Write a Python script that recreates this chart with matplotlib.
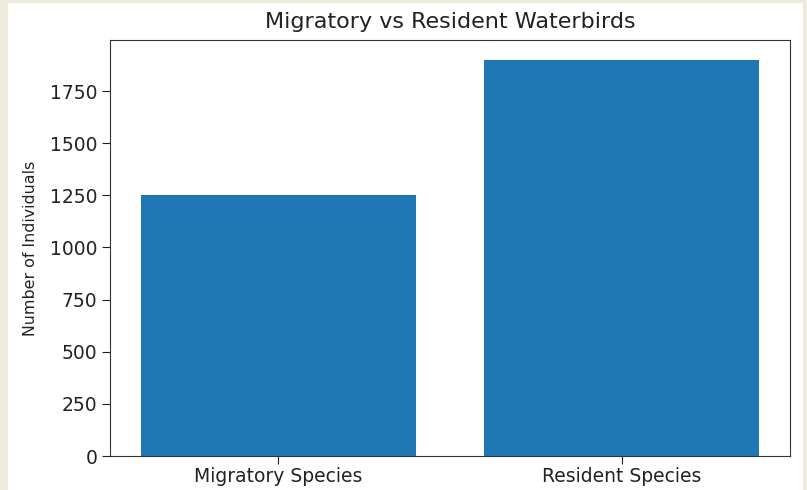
import matplotlib
matplotlib.use("Agg")
import matplotlib.pyplot as plt
from matplotlib.patches import Rectangle

plt.rcParams['font.family'] = ['DejaVu Sans']

categories = ["Migratory Species", "Resident Species"]
counts = [1250, 1900]
title = "Migratory vs Resident Waterbirds"
ylabel = "Number of Individuals"

W, H = 807, 490
fig = plt.figure(figsize=(W / 100, H / 100), dpi=100)
fig.patch.set_facecolor("#ecebdc")
fig.patches.append(Rectangle((8 / W, 0), (803 - 8) / W, (H - 3) / H,
                             transform=fig.transFigure, facecolor="white",
                             edgecolor="none", zorder=-10))

ax = fig.add_axes([110 / W, 1 - 456 / H, (790 - 110) / W, (456 - 40) / H])
ax.set_zorder(1)
ax.bar(categories, counts, color="#1f77b4")
ax.set_title(title, fontsize=16, color="#222222", pad=8.5)
ax.set_ylabel(ylabel, fontsize=11.4, color="#222222", labelpad=9)
ax.tick_params(labelsize=13.5, colors="#222222", length=5.5)
ax.tick_params(axis="x", pad=2.5)
for s in ax.spines.values():
    s.set_color("#333333")

fig.savefig("out.png", dpi=100, facecolor=fig.get_facecolor())
